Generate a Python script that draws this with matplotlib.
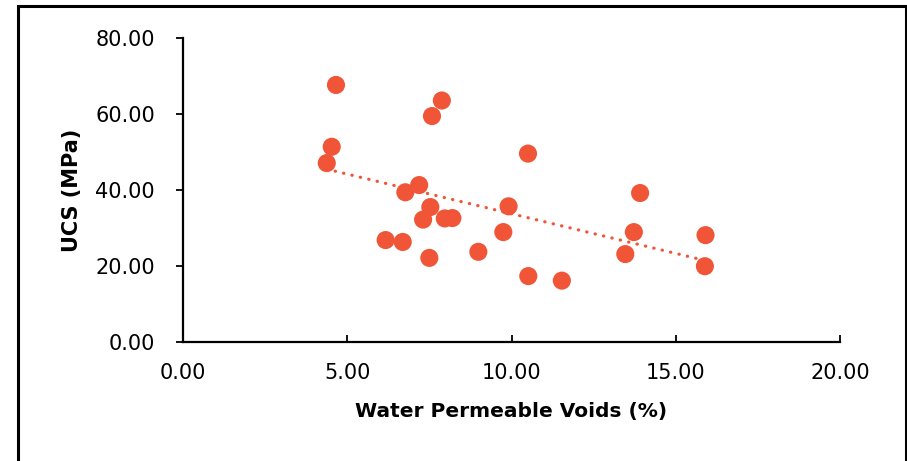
import numpy as np
import matplotlib
matplotlib.use("Agg")
import matplotlib.pyplot as plt
from matplotlib.patches import Rectangle

# water permeable voids (%) vs UCS (MPa)
voids = [4.66, 7.88, 7.58, 4.53, 4.38, 10.50, 13.91, 7.19, 6.77, 7.53,
         9.91, 7.31, 7.97, 8.20, 9.75, 13.72, 15.90, 6.17, 6.69, 7.50,
         8.99, 13.46, 15.88, 10.51, 11.53]
ucs = [67.7, 63.6, 59.5, 51.4, 47.1, 49.6, 39.2, 41.3, 39.4, 35.5,
       35.7, 32.2, 32.5, 32.6, 28.9, 28.9, 28.1, 26.8, 26.3, 22.1,
       23.7, 23.1, 19.9, 17.3, 16.1]

xticks = [0, 5, 10, 15, 20]
yticks = [0, 20, 40, 60, 80]

color = "#F05537"

fig = plt.figure(figsize=(9.07, 4.61), dpi=100)
ax = fig.add_axes([0.2015, 0.2588, 0.725, 0.6581])

ax.scatter(voids, ucs, s=170, color=color, edgecolors="none", zorder=3)

# linear trendline
x = np.array(voids)
y = np.array(ucs)
k, b = np.polyfit(x, y, 1)
xs = np.array([x.min(), x.max()])
ax.plot(xs, k * xs + b, color=color, lw=2.3,
        linestyle=(0, (0.1, 2.6)), dash_capstyle="round", zorder=2)

ax.set_xlim(0, 20)
ax.set_ylim(0, 80)
ax.set_xticks(xticks)
ax.set_yticks(yticks)
ax.set_xticklabels([f"{v:.2f}" for v in xticks])
ax.set_yticklabels([f"{v:.2f}" for v in yticks])

for s in ["top", "right"]:
    ax.spines[s].set_visible(False)
for s in ["left", "bottom"]:
    ax.spines[s].set_linewidth(1.6)

ax.tick_params(axis="x", direction="in", length=5, width=1.3, pad=15, labelsize=15)
ax.tick_params(axis="y", direction="out", length=5, width=1.3, pad=15, labelsize=15)

ax.set_xlabel("Water Permeable Voids (%)", fontsize=14.5, fontweight="bold")
ax.set_ylabel("UCS (MPa)", fontsize=15, fontweight="bold")
ax.xaxis.set_label_coords(0.5, -0.2307)
ax.xaxis.label.set_va("center")
ax.yaxis.set_label_coords(-0.1685, 0.5)
ax.yaxis.label.set_va("center")

# figure frame
fig.patches.append(Rectangle((18 / 907, -0.05), 888 / 907, 1.05 - 6 / 461,
                             transform=fig.transFigure, fill=False,
                             edgecolor="black", lw=2.2))

fig.savefig("out.png", dpi=100)
